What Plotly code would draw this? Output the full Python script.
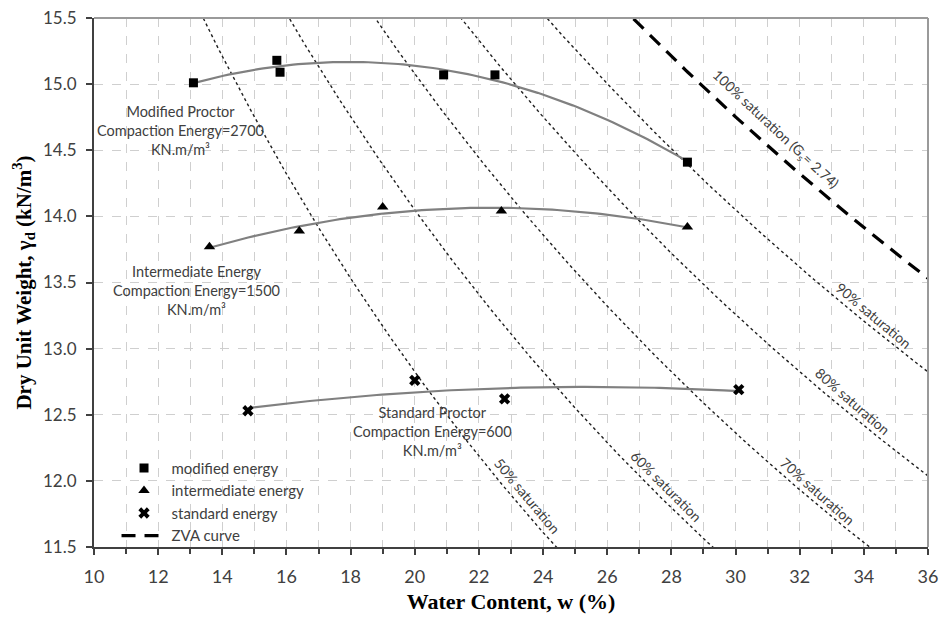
import numpy as np
import plotly.graph_objects as go

# ---------------- data ----------------
mod_w = [13.1, 15.7, 15.8, 20.9, 22.5, 28.5]
mod_g = [15.01, 15.18, 15.09, 15.07, 15.07, 14.41]

int_w = [13.6, 16.4, 19.0, 22.7, 28.5]
int_g = [13.77, 13.89, 14.07, 14.04, 13.92]

std_w = [14.8, 20.0, 22.8, 30.1]
std_g = [12.53, 12.76, 12.62, 12.69]

Gs = 2.74
gamma_w = 9.81
sat_levels = [50, 60, 70, 80, 90]
sat_label_w = [23.50, 27.86, 32.57, 33.66, 34.31]
sat_label_g = [11.89, 11.96, 11.92, 12.60, 13.25]
sat_label_ang = [50, 45, 41.5, 41, 40]

x_ticks = list(range(10, 37, 2))
y_ticks = [11.5, 12.0, 12.5, 13.0, 13.5, 14.0, 14.5, 15.0, 15.5]

FONT = "Lato"
TXT = "#404040"

fig = go.Figure()

# saturation lines
w_grid = np.linspace(10, 36, 300)
for S in sat_levels:
    g = Gs * gamma_w / (1 + (w_grid / 100) * Gs / (S / 100))
    fig.add_trace(go.Scatter(x=w_grid, y=g, mode="lines", showlegend=False,
                             hoverinfo="skip",
                             line=dict(color="#202020", width=1.4, dash="dot")))

# trend lines (2nd-order polynomial fits)
for ws, gs in [(mod_w, mod_g), (int_w, int_g), (std_w, std_g)]:
    c = np.polyfit(ws, gs, 2)
    xx = np.linspace(min(ws), max(ws), 100)
    fig.add_trace(go.Scatter(x=xx, y=np.polyval(c, xx), mode="lines",
                             showlegend=False, hoverinfo="skip",
                             line=dict(color="#808080", width=2.2)))

# data points
fig.add_trace(go.Scatter(x=mod_w, y=mod_g, mode="markers", name="modified energy",
                         marker=dict(symbol="square", size=9, color="black")))
fig.add_trace(go.Scatter(x=int_w, y=int_g, mode="markers", name="intermediate energy",
                         marker=dict(symbol="triangle-up", size=10, color="black")))
fig.add_trace(go.Scatter(x=std_w, y=std_g, mode="markers", name="standard energy",
                         marker=dict(symbol="x", size=10, color="black",
                                     line=dict(width=0))))
# ZVA curve
g_zva = Gs * gamma_w / (1 + (w_grid / 100) * Gs)
fig.add_trace(go.Scatter(x=w_grid, y=g_zva, mode="lines", name="ZVA curve",
                         line=dict(color="black", width=3.2, dash="14px,9px")))

annotations = []
for S, xw, yg, ang in zip(sat_levels, sat_label_w, sat_label_g, sat_label_ang):
    annotations.append(dict(x=xw, y=yg, text=f"{S}% saturation", showarrow=False,
                            textangle=ang, font=dict(family=FONT, size=14, color=TXT)))
annotations.append(dict(x=31.25, y=14.66, text="100% saturation (G<sub>s</sub>= 2.74)",
                        showarrow=False, textangle=43,
                        font=dict(family=FONT, size=14, color=TXT)))

comp = [(12.71, 14.653, "Modified Proctor<br>Compaction Energy=2700<br>KN.m/m³"),
        (13.18, 13.436, "Intermediate Energy<br>Compaction Energy=1500<br>KN.m/m³"),
        (20.54, 12.377, "Standard Proctor<br>Compaction Energy=600<br>KN.m/m³")]
for xw, yg, t in comp:
    annotations.append(dict(x=xw, y=yg, text=t, showarrow=False, align="center",
                            font=dict(family=FONT, size=14.5, color=TXT)))

grid_c = "#cfcfcf"
fig.update_layout(
    width=942, height=618,
    margin=dict(l=94, r=14, t=18, b=71, autoexpand=False),
    plot_bgcolor="white", paper_bgcolor="white",
    showlegend=True,
    legend=dict(x=0.027, y=0.18, xanchor="left", yanchor="top",
                bgcolor="rgba(0,0,0,0)", font=dict(family=FONT, size=15, color=TXT),
                tracegroupgap=0, itemwidth=45),
    annotations=annotations,
    shapes=[
        dict(type="line", xref="paper", yref="paper", x0=0, x1=1, y0=1, y1=1,
             line=dict(color="#9a9a9a", width=2)),
        dict(type="line", xref="paper", yref="paper", x0=1, x1=1, y0=0, y1=1,
             line=dict(color="#9a9a9a", width=2)),
    ],
)

fig.update_xaxes(
    range=[10, 36], tickvals=x_ticks, ticktext=[str(v) for v in x_ticks],
    automargin=False,
    showline=True, linecolor="#404040", linewidth=2,
    ticks="outside", ticklen=6, tickwidth=1.5, tickcolor="#404040",
    ticklabelstandoff=6,
    showgrid=True, gridcolor=grid_c, griddash="dash", gridwidth=1,
    minor=dict(dtick=1, tick0=10, ticks="outside", ticklen=5, tickcolor="#404040",
               showgrid=True, gridcolor=grid_c, griddash="dash", gridwidth=1),
    zeroline=False,
    tickfont=dict(family=FONT, size=18, color=TXT),
    title=dict(text="Water Content, w (%)", standoff=8,
               font=dict(family="Liberation Serif", size=22, color="black", weight="bold")),
)
fig.update_yaxes(
    range=[11.5, 15.5], tickvals=y_ticks, ticktext=[f"{v:.1f}" for v in y_ticks],
    automargin=False,
    showline=True, linecolor="#404040", linewidth=2,
    ticks="outside", ticklen=6, tickwidth=1.5, tickcolor="#404040",
    ticklabelstandoff=6,
    showgrid=True, gridcolor=grid_c, griddash="dash", gridwidth=1,
    zeroline=False,
    tickfont=dict(family=FONT, size=17, color=TXT),
    title=dict(text="Dry Unit Weight, γ<sub>d</sub> (kN/m<sup>3</sup>)", standoff=6,
               font=dict(family="Liberation Serif", size=21, color="black", weight="bold")),
)

fig.write_html("out.html")
